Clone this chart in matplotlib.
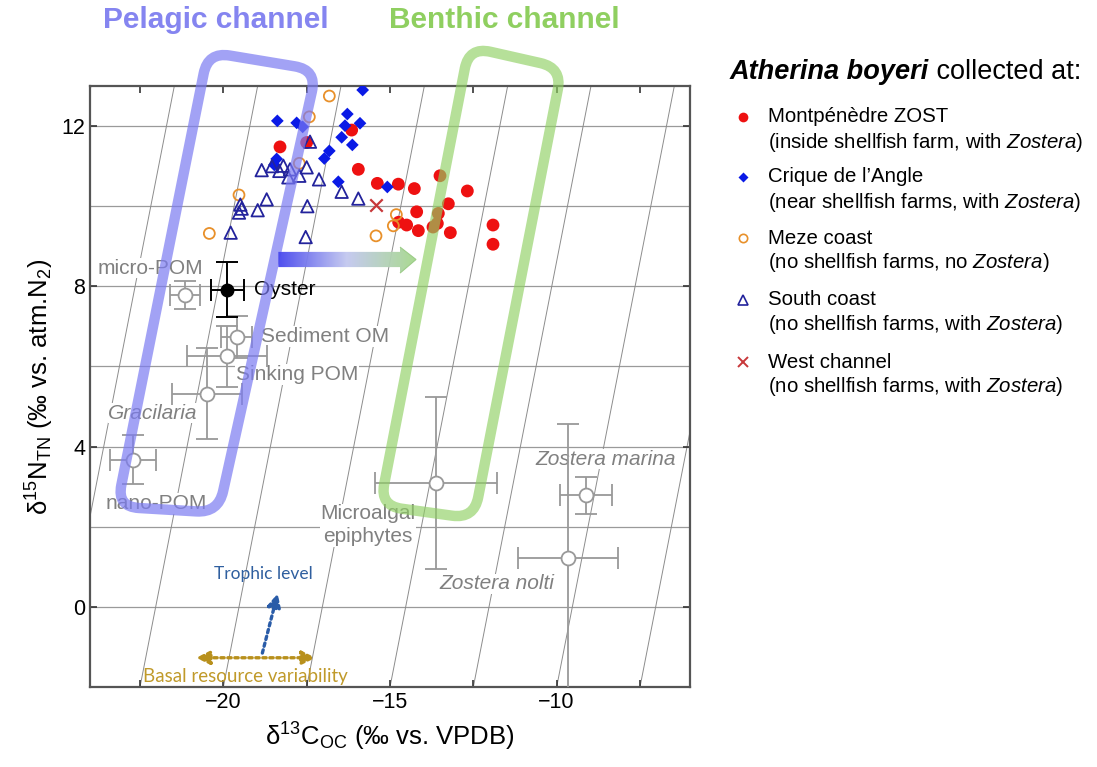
import numpy as np
import matplotlib
matplotlib.use("Agg")
import matplotlib.pyplot as plt
from matplotlib.path import Path
from matplotlib.patches import PathPatch, Polygon
from matplotlib.lines import Line2D
from matplotlib.colors import LinearSegmentedColormap

plt.rcParams['font.family'] = ['Liberation Sans', 'DejaVu Sans']
plt.rcParams['mathtext.fontset'] = 'custom'
plt.rcParams['mathtext.rm'] = 'Liberation Sans'
plt.rcParams['mathtext.it'] = 'Liberation Sans:italic'
plt.rcParams['mathtext.bf'] = 'Liberation Sans:bold'

# ---- fish isotope values (d13C, d15N) per site ----
zost_x = [-18.30, -16.15, -15.95, -15.38, -14.75, -14.27, -13.50, -12.68, -13.25, -14.20,
          -13.55, -14.74, -14.50, -14.15, -13.58, -13.71, -13.19, -11.91, -11.91, -17.50]
zost_y = [11.48, 11.90, 10.92, 10.57, 10.55, 10.44, 10.76, 10.38, 10.06, 9.86,
          9.82, 9.60, 9.53, 9.39, 9.57, 9.48, 9.34, 9.53, 9.05, 11.59]

angle_x = [-15.82, -16.28, -15.90, -16.35, -18.38, -17.80, -17.62, -16.45, -16.13, -16.82,
           -16.97, -18.40, -18.47, -16.55, -15.08]
angle_y = [12.90, 12.30, 12.07, 12.01, 12.13, 12.08, 11.98, 11.72, 11.53, 11.38,
           11.19, 11.18, 11.03, 10.61, 10.48]

meze_x = [-16.82, -17.42, -17.72, -19.53, -20.42, -14.81, -14.90, -15.42]
meze_y = [12.75, 12.23, 11.07, 10.28, 9.32, 9.79, 9.51, 9.26]

south_x = [-17.40, -18.85, -18.54, -18.20, -18.00, -18.32, -18.05, -17.72, -17.50, -17.13,
           -16.45, -15.95, -19.49, -19.45, -19.53, -18.70, -18.97, -17.48, -19.78, -17.53]
south_y = [11.61, 10.90, 11.00, 11.01, 10.92, 10.88, 10.72, 10.76, 10.97, 10.67,
           10.36, 10.19, 10.04, 9.94, 9.84, 10.17, 9.90, 10.00, 9.34, 9.23]

west_x = [-15.42]
west_y = [10.04]

# ---- food sources: mean and SD ----
src_names = ['micro-POM', 'Sediment OM', 'Sinking POM', 'Gracilaria', 'nano-POM',
             'Microalgal\nepiphytes', 'Zostera marina', 'Zostera nolti']
src_x = [-21.15, -19.60, -19.88, -20.48, -22.72, -13.62, -9.12, -9.67]
src_y = [7.78, 6.73, 6.25, 5.32, 3.67, 3.09, 2.78, 1.23]
src_xerr = [0.46, 0.47, 1.20, 1.05, 0.69, 1.82, 0.77, 1.50]
src_yerr = [0.35, 0.53, 0.77, 1.14, 0.61, 2.15, 0.46, 3.33]

oyster_x, oyster_y = -19.88, 7.92
oyster_xerr, oyster_yerr = 0.50, 0.69

# trophic enrichment: d15N rises 3.4 per 0.8 of d13C
trophic_dN, trophic_dC = 3.4, 0.8
iso_anchor_x = [-27.5, -25.0, -22.5, -20.0, -17.5, -15.0, -12.5, -10.0, -7.5]

x_ticks = [-20, -15, -10]
y_ticks = [0, 4, 8, 12]

# ---- figure ----
fig = plt.figure(figsize=(10.97, 7.67), dpi=100)
ax = fig.add_axes([90 / 1097, 80 / 767, 600 / 1097, 601 / 767])
ax.set_xlim(-24, -6)
ax.set_ylim(-2, 13)

# horizontal guides and trophic-slope lines
for yv in np.arange(0, 13, 2):
    ax.axhline(yv, color='#9a9a9a', lw=0.9, zorder=1)
slope = trophic_dN / trophic_dC
for x0 in iso_anchor_x:
    ax.axline((x0, -2), slope=slope, color='#8c8c8c', lw=0.7, zorder=1)

# source error bars
ax.errorbar(src_x, src_y, xerr=src_xerr, yerr=src_yerr, fmt='o', ms=10,
            mfc='white', mec='#999999', mew=1.3, ecolor='#999999', elinewidth=1.3,
            capsize=8, capthick=1.3, zorder=3)
ax.errorbar([oyster_x], [oyster_y], xerr=[oyster_xerr], yerr=[oyster_yerr], fmt='o',
            ms=9, mfc='black', mec='black', ecolor='black', elinewidth=1.4,
            capsize=8, capthick=1.4, zorder=3)

# source labels
lab_kw = dict(color='#808080', fontsize=15, va='center', zorder=2.5,
              bbox=dict(facecolor='white', edgecolor='none', pad=0.5))
lab_pos = {
    'micro-POM': (-23.76, 8.45, 'left', 'normal'),
    'Sediment OM': (-18.87, 6.75, 'left', 'normal'),
    'Sinking POM': (-19.62, 5.80, 'left', 'normal'),
    'Gracilaria': (-23.45, 4.83, 'left', 'italic'),
    'nano-POM': (-23.52, 2.58, 'left', 'normal'),
    'Microalgal\nepiphytes': (-15.66, 2.04, 'center', 'normal'),
    'Zostera marina': (-10.65, 3.69, 'left', 'italic'),
    'Zostera nolti': (-13.52, 0.58, 'left', 'italic'),
}
for name in src_names:
    px, py, ha, st = lab_pos[name]
    ax.text(px, py, name, ha=ha, style=st, linespacing=1.25, **lab_kw)
ax.text(-19.08, 7.92, 'Oyster', color='black', fontsize=15, va='center', zorder=2.5)

# fish
ax.scatter(zost_x, zost_y, s=85, c='#ee1111', edgecolors='none', zorder=4)
ax.scatter(angle_x, angle_y, s=42, marker='D', c='#0a1ae6', edgecolors='none', zorder=4.1)
ax.scatter(meze_x, meze_y, s=62, facecolors='none', edgecolors='#e8902a', lw=1.3, zorder=4.2)
ax.scatter(south_x, south_y, s=80, marker='^', facecolors='none', edgecolors='#23239c',
           lw=1.3, zorder=4.3)
ax.scatter(west_x, west_y, s=80, marker='x', c='#c8383a', lw=1.6, zorder=4.4)


def rounded_path(corners, radius_px):
    pts = ax.transData.transform(np.asarray(corners, float))
    n = len(pts)
    verts, codes = [], []
    for i in range(n):
        p0, p1, p2 = pts[i - 1], pts[i], pts[(i + 1) % n]
        d1 = (p0 - p1) / np.linalg.norm(p0 - p1)
        d2 = (p2 - p1) / np.linalg.norm(p2 - p1)
        a, b = p1 + d1 * radius_px, p1 + d2 * radius_px
        verts.append(a)
        codes.append(Path.MOVETO if i == 0 else Path.LINETO)
        verts += [p1, b]
        codes += [Path.CURVE3, Path.CURVE3]
    verts.append(verts[0])
    codes.append(Path.CLOSEPOLY)
    vd = ax.transData.inverted().transform(np.array(verts))
    return Path(vd, codes)


pelagic = [(-20.46, 13.85), (-17.20, 13.40), (-20.15, 2.35), (-23.19, 2.50)]
benthic = [(-12.63, 13.975), (-9.84, 13.45), (-12.48, 2.20), (-15.30, 2.525)]
ax.add_patch(PathPatch(rounded_path(pelagic, 22), fill=False, ec='#7b7bf2', alpha=0.7,
                       lw=7.5, clip_on=False, zorder=5, joinstyle='round'))
ax.add_patch(PathPatch(rounded_path(benthic, 22), fill=False, ec='#8fd062', alpha=0.65,
                       lw=7.5, clip_on=False, zorder=5, joinstyle='round'))

# gradient arrow from pelagic to benthic
arrow_pts = [(-18.35, 8.48), (-14.70, 8.48), (-14.70, 8.33), (-14.22, 8.67),
             (-14.70, 8.98), (-14.70, 8.86), (-18.35, 8.86)]
arrow_patch = Polygon(arrow_pts, closed=True, fc='none', ec='none', transform=ax.transData)
ax.add_patch(arrow_patch)
grad_cmap = LinearSegmentedColormap.from_list('pb', ['#4646ee', '#c3c8f0', '#a6d88c'])
img = ax.imshow(np.linspace(0, 1, 256)[None, :], extent=[-18.35, -14.22, 8.33, 8.98],
                aspect='auto', cmap=grad_cmap, zorder=6, alpha=0.95)
img.set_clip_path(arrow_patch)
ax.add_patch(Polygon([(-14.70, 8.33), (-14.22, 8.67), (-14.70, 8.98)], closed=False,
                     fc='none', ec='#9ccc88', lw=0.8, zorder=6.1))
ax.set_xlim(-24, -6)
ax.set_ylim(-2, 13)

# schematic axes
ax.annotate('', xy=(-18.35, 0.40), xytext=(-18.85, -1.22),
            arrowprops=dict(arrowstyle='-|>', color='#2a5ca8', lw=2.4, ls=(0, (1, 1.1)),
                            mutation_scale=20))
ax.text(-18.81, 0.82, 'Trophic level', color='#2f5f9f', fontsize=12.5, ha='center',
        va='center', family=['Lato', 'DejaVu Sans'])
ax.annotate('', xy=(-17.15, -1.27), xytext=(-20.90, -1.27),
            arrowprops=dict(arrowstyle='<|-|>', color='#b8901c', lw=2.4, ls=(0, (1, 1.1)),
                            mutation_scale=20))
ax.text(-19.35, -1.75, 'Basal resource variability', color='#c09a2a', fontsize=13.5,
        ha='center', va='center', family=['Lato', 'DejaVu Sans'])

# channel titles
fig.text(216 / 1097, 1 - 20 / 767, 'Pelagic channel', color='#8585f0', fontsize=21.5,
         fontweight='bold', ha='center', va='center')
fig.text(504 / 1097, 1 - 20 / 767, 'Benthic channel', color='#8fcf60', fontsize=21.5,
         fontweight='bold', ha='center', va='center')

# axes styling
ax.set_xticks(x_ticks)
ax.set_xticks(np.arange(-22.5, -6, 2.5), minor=True)
ax.set_yticks(y_ticks)
ax.tick_params(which='both', direction='in', top=True, right=True, length=5, width=1.2,
               color='#333333', labelsize=15.5)
for sp in ax.spines.values():
    sp.set_color('#555555')
    sp.set_linewidth(1.6)
ax.set_xlabel('δ$^{13}$C$_{\\mathrm{OC}}$ (‰ vs. VPDB)', fontsize=18.5, labelpad=6)
ax.set_ylabel('δ$^{15}$N$_{\\mathrm{TN}}$ (‰ vs. atm.N$_2$)', fontsize=18.5, labelpad=4)

# site legend
t1 = fig.text(730 / 1097, 1 - 72 / 767, 'Atherina boyeri', fontsize=19.5, fontweight='bold',
              style='italic', va='center', ha='left')
fig.canvas.draw()
bb = t1.get_window_extent()
fig.text(bb.x1 / 1097, 1 - 72 / 767, ' collected at:', fontsize=19.5, va='center', ha='left')

legend_rows = [
    (dict(marker='o', ms=7, mfc='#ee1111', mec='none'), 'Montpénèdre ZOST',
     '(inside shellfish farm, with $\\it{Zostera}$)', 117),
    (dict(marker='D', ms=5, mfc='#0a1ae6', mec='none'), 'Crique de l’Angle',
     '(near shellfish farms, with $\\it{Zostera}$)', 177),
    (dict(marker='o', ms=6, mfc='none', mec='#e8902a', mew=1.2), 'Meze coast',
     '(no shellfish farms, no $\\it{Zostera}$)', 238),
    (dict(marker='^', ms=6.5, mfc='none', mec='#23239c', mew=1.2), 'South coast',
     '(no shellfish farms, with $\\it{Zostera}$)', 300),
    (dict(marker='x', ms=7, mfc='none', mec='#c8383a', mew=1.4), 'West channel',
     '(no shellfish farms, with $\\it{Zostera}$)', 362),
]
for style, l1, l2, ypx in legend_rows:
    fig.add_artist(Line2D([743 / 1097], [1 - ypx / 767], ls='none',
                          transform=fig.transFigure, **style))
    fig.text(768 / 1097, 1 - ypx / 767, l1, fontsize=14.7, va='center', ha='left')
    fig.text(768 / 1097, 1 - (ypx + 25) / 767, l2, fontsize=14.7, va='center', ha='left')

fig.savefig('out.png', dpi=100)
